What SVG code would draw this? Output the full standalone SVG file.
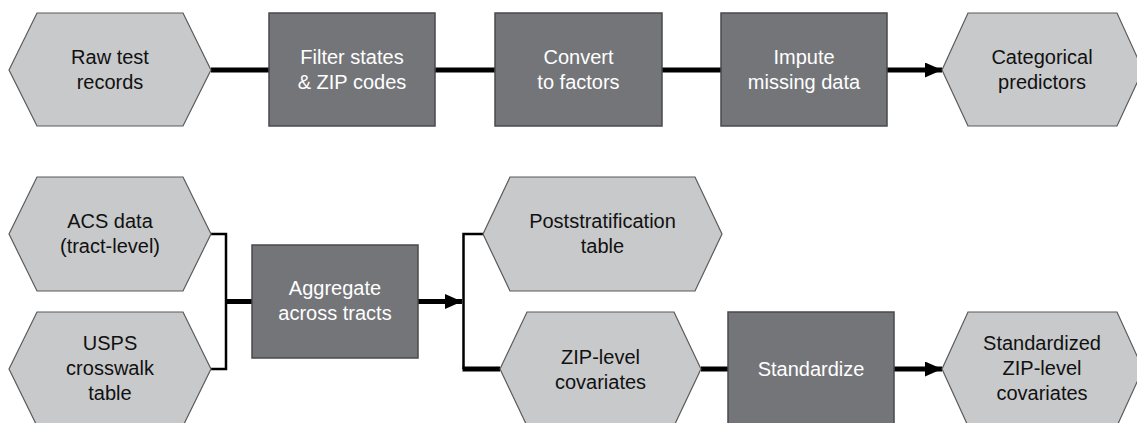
<svg xmlns="http://www.w3.org/2000/svg" width="1137" height="423" viewBox="0 0 1137 423">
<style>
.hex{fill:#c8c9cb;stroke:#5a5a5a;stroke-width:1.2}
.box{fill:#747579;stroke:#4a4a4c;stroke-width:1.5}
.t{font-family:"Liberation Sans",Arial,sans-serif;font-size:20px;text-anchor:middle}
.dk{fill:#111}
.lt{fill:#ffffff}
.c{fill:none;stroke:#000;stroke-width:5}
.thin{fill:none;stroke:#000;stroke-width:2.5}
</style>
<defs>
<marker id="ah" markerUnits="userSpaceOnUse" markerWidth="17" markerHeight="16" refX="17" refY="7.5" orient="auto">
<path d="M0,0 L17,7.5 L0,15 Z" fill="#000"/>
</marker>
</defs>
<g id="connectors">
<line class="c" x1="211" y1="70" x2="269" y2="70"/>
<line class="c" x1="435" y1="70" x2="495" y2="70"/>
<line class="c" x1="662" y1="70" x2="721" y2="70"/>
<line class="c" x1="887" y1="70" x2="942" y2="70" marker-end="url(#ah)"/>
<path class="thin" d="M211,234 H226 V369 H211"/>
<line class="c" x1="226" y1="301.5" x2="252" y2="301.5"/>
<line class="c" x1="418" y1="301.5" x2="462" y2="301.5" marker-end="url(#ah)"/>
<path class="thin" d="M484,234 H463.5 V369"/>
<line class="c" x1="462.5" y1="369" x2="500" y2="369"/>
<line class="c" x1="701" y1="369" x2="728" y2="369"/>
<line class="c" x1="894" y1="369" x2="942" y2="369" marker-end="url(#ah)"/>
</g>
<g id="raw">
<polygon class="hex" points="9,70 37,13 183,13 211,70 183,126 37,126"/>
<text class="t dk" x="110" y="64">Raw test</text>
<text class="t dk" x="110" y="89">records</text>
</g>
<g id="filter">
<rect class="box" x="269" y="13" width="166" height="113"/>
<text class="t lt" x="352" y="64">Filter states</text>
<text class="t lt" x="352" y="89">&amp; ZIP codes</text>
</g>
<g id="convert">
<rect class="box" x="495" y="13" width="167" height="113"/>
<text class="t lt" x="578.5" y="64">Convert</text>
<text class="t lt" x="578.5" y="89">to factors</text>
</g>
<g id="impute">
<rect class="box" x="721" y="13" width="166" height="113"/>
<text class="t lt" x="804" y="64">Impute</text>
<text class="t lt" x="804" y="89">missing data</text>
</g>
<g id="categorical">
<polygon class="hex" points="942,70 968,13 1117,13 1143,70 1117,126 968,126"/>
<text class="t dk" x="1042" y="64">Categorical</text>
<text class="t dk" x="1042" y="89">predictors</text>
</g>
<g id="acs">
<polygon class="hex" points="9,234 37,177 183,177 211,234 183,291 37,291"/>
<text class="t dk" x="110" y="228">ACS data</text>
<text class="t dk" x="110" y="253">(tract-level)</text>
</g>
<g id="usps">
<polygon class="hex" points="9,369 37,312 183,312 211,369 183,426 37,426"/>
<text class="t dk" x="110" y="350">USPS</text>
<text class="t dk" x="110" y="375">crosswalk</text>
<text class="t dk" x="110" y="400">table</text>
</g>
<g id="aggregate">
<rect class="box" x="252" y="245" width="166" height="113"/>
<text class="t lt" x="335" y="295">Aggregate</text>
<text class="t lt" x="335" y="320">across tracts</text>
</g>
<g id="poststrat">
<polygon class="hex" points="483,234 510,177 695,177 722,234 695,291 510,291"/>
<text class="t dk" x="602.5" y="228">Poststratification</text>
<text class="t dk" x="602.5" y="253">table</text>
</g>
<g id="zip">
<polygon class="hex" points="500,369 527,312 674,312 701,369 674,426 527,426"/>
<text class="t dk" x="600.5" y="364">ZIP-level</text>
<text class="t dk" x="600.5" y="389">covariates</text>
</g>
<g id="standardize">
<rect class="box" x="728" y="312" width="166" height="116"/>
<text class="t lt" x="811" y="376">Standardize</text>
</g>
<g id="standardized">
<polygon class="hex" points="942,369 968,312 1117,312 1143,369 1117,426 968,426"/>
<text class="t dk" x="1042" y="350">Standardized</text>
<text class="t dk" x="1042" y="375">ZIP-level</text>
<text class="t dk" x="1042" y="400">covariates</text>
</g>
</svg>
